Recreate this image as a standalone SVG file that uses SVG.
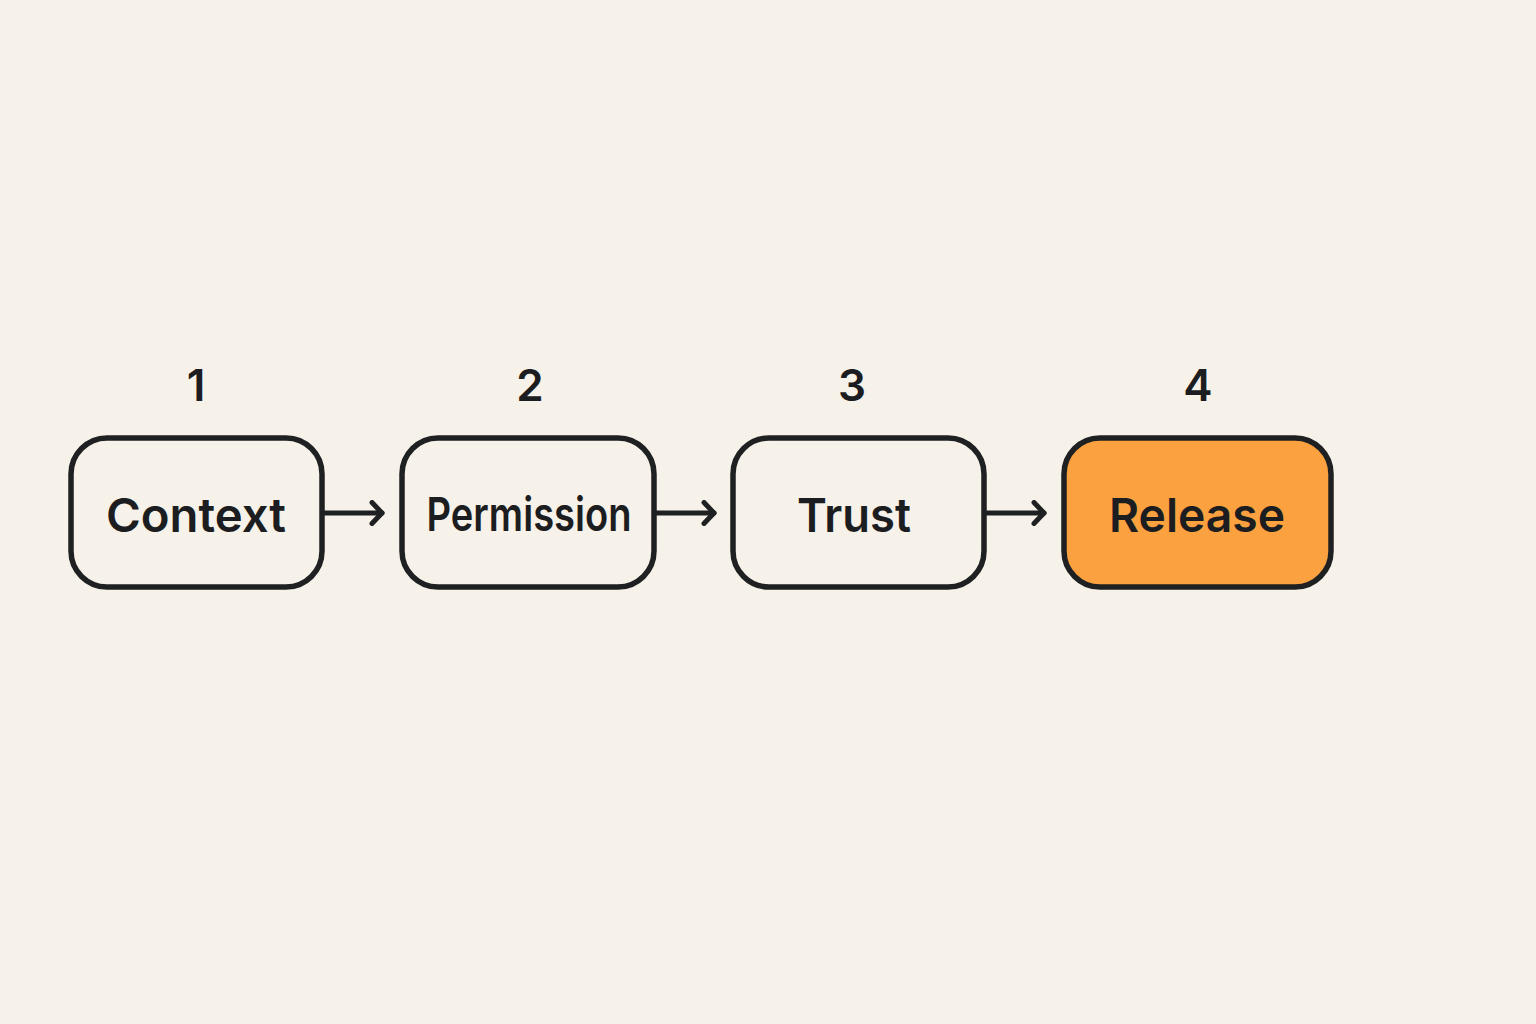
<svg xmlns="http://www.w3.org/2000/svg" width="1536" height="1024" viewBox="0 0 1536 1024">
<defs>
<style>
.box{fill:none;stroke:#1f2022;stroke-width:5.5}
.hl{fill:#fba13f}
.lbl{font-family:Inter,"Liberation Sans",sans-serif;font-weight:600;font-size:47px;fill:#1c1d20;text-anchor:middle}
.num{font-family:Inter,"Liberation Sans",sans-serif;font-weight:600;font-size:44px;fill:#1c1d20;text-anchor:middle}
.conn{stroke:#1f2022;stroke-width:5;fill:none;stroke-linecap:round;stroke-linejoin:round}
</style>
<marker id="chev" viewBox="0 0 16 26" refX="13" refY="13" markerWidth="16" markerHeight="26" markerUnits="userSpaceOnUse" orient="auto">
<path d="M3,2.5 L13,13 L3,23.5" fill="none" stroke="#1f2022" stroke-width="5" stroke-linecap="round" stroke-linejoin="round"/>
</marker>
</defs>
<rect width="1536" height="1024" fill="#f6f1e9"/>
<g id="node1">
<text class="num" x="196" y="401">1</text>
<rect class="box" x="71" y="438" width="251" height="149" rx="36"/>
<text class="lbl" x="196" y="532" textLength="180" lengthAdjust="spacingAndGlyphs">Context</text>
</g>
<g id="node2">
<text class="num" x="530" y="401">2</text>
<rect class="box" x="402" y="438" width="252" height="149" rx="36"/>
<text class="lbl" x="529" y="531" font-size="42" textLength="205" lengthAdjust="spacingAndGlyphs">Permission</text>
</g>
<g id="node3">
<text class="num" x="852" y="401">3</text>
<rect class="box" x="733" y="438" width="251" height="149" rx="36"/>
<text class="lbl" x="854" y="532" textLength="114" lengthAdjust="spacingAndGlyphs">Trust</text>
</g>
<g id="node4">
<text class="num" x="1198" y="401">4</text>
<rect class="box hl" x="1064" y="438" width="267" height="149" rx="36"/>
<text class="lbl" x="1197" y="532" textLength="176" lengthAdjust="spacingAndGlyphs">Release</text>
</g>
<g id="connectors">
<line class="conn" x1="324" y1="513" x2="382" y2="513" marker-end="url(#chev)"/>
<line class="conn" x1="656" y1="513" x2="714" y2="513" marker-end="url(#chev)"/>
<line class="conn" x1="986" y1="513" x2="1044" y2="513" marker-end="url(#chev)"/>
</g>
</svg>
